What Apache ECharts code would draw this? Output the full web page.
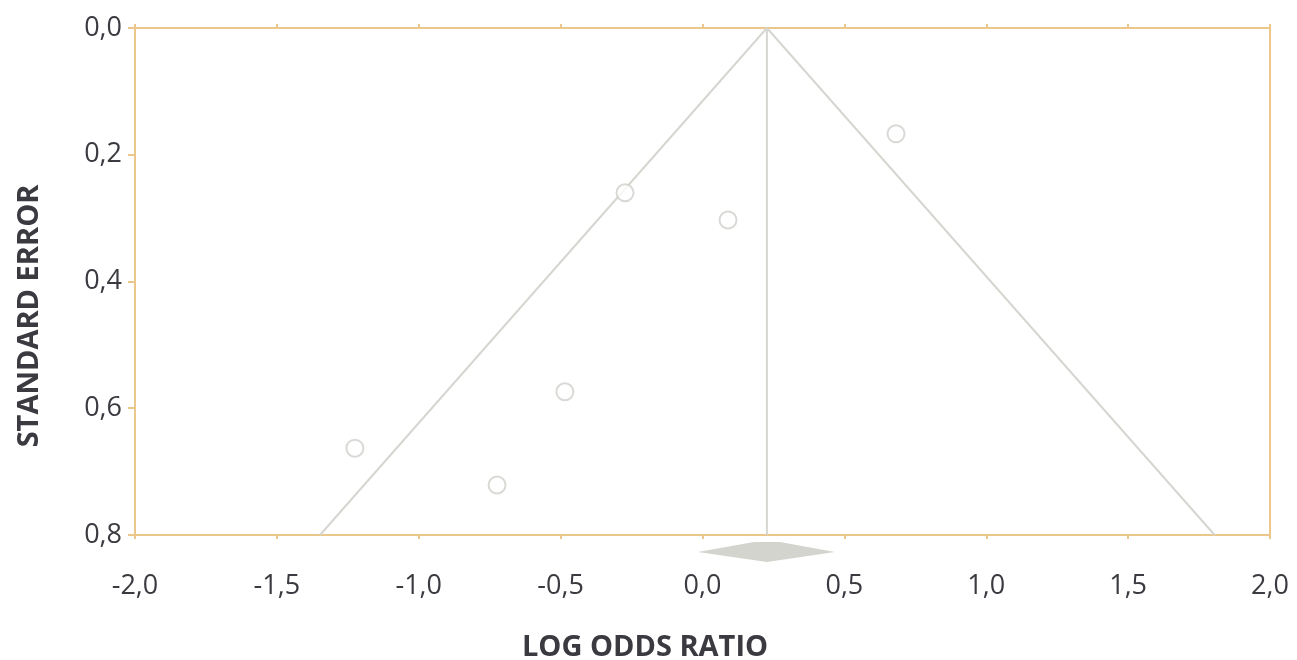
<!DOCTYPE html>
<html>
<head>
<meta charset="utf-8">
<script src="https://cdn.jsdelivr.net/npm/echarts@6/dist/echarts.min.js"></script>
<style>
html,body{margin:0;padding:0;background:#fff;}
#chart{width:1297px;height:660px;}
</style>
</head>
<body>
<div id="chart"></div>
<script>
// Study points: [log odds ratio, standard error]
var studyLogOR = [0.682, -0.273, 0.090, -0.485, -1.225, -0.724];
var studySE    = [0.167, 0.260, 0.303, 0.574, 0.663, 0.721];
// Funnel lines
var funnelLeft   = [[0.227, 0], [-1.348, 0.8]];
var funnelRight  = [[0.227, 0], [1.805, 0.8]];
var funnelCenter = [[0.227, 0], [0.227, 0.8]];
// Pooled estimate diamond: [lower, estimate, upper]
var pooled = [[-0.016, 0.227, 0.467]];
// Axis settings
var xTicks = { min: -2, max: 2, interval: 0.5 };
var yTicks = { min: 0, max: 0.8, interval: 0.2 };
var xTitle = 'LOG ODDS RATIO';
var yTitle = 'STANDARD ERROR';

var points = studyLogOR.map(function (v, i) { return [v, studySE[i]]; });

var axisColor = '#ecc78b';
var lineGray = '#d6d6d1';
var textColor = '#3a3a40';
var font = '"Open Sans", "Noto Sans", sans-serif';
function fmt(v) { return v.toFixed(1).replace('.', ','); }

var chart = echarts.init(document.getElementById('chart'), null, { renderer: 'canvas' });
chart.setOption({
  animation: false,
  grid: { left: 135, right: 27, top: 28, bottom: 125, show: true, borderColor: axisColor, borderWidth: 2, backgroundColor: 'transparent' },
  xAxis: [{
    type: 'value', min: xTicks.min, max: xTicks.max, interval: xTicks.interval,
    axisLine: { show: true, onZero: false, lineStyle: { color: axisColor, width: 2 } },
    axisTick: { show: true, inside: false, length: 4, lineStyle: { color: axisColor, width: 2 } },
    splitLine: { show: false },
    axisLabel: { color: textColor, fontFamily: font, fontSize: 27, margin: 38, formatter: fmt }
  }, {
    type: 'value', min: xTicks.min, max: xTicks.max, interval: xTicks.interval, position: 'bottom',
    axisLine: { show: false },
    axisTick: { show: true, inside: true, length: 4, lineStyle: { color: axisColor, width: 2 } },
    splitLine: { show: false },
    axisLabel: { show: false }
  }],
  yAxis: {
    type: 'value', inverse: true, min: yTicks.min, max: yTicks.max, interval: yTicks.interval,
    axisLine: { show: true, onZero: false, lineStyle: { color: axisColor, width: 2 } },
    axisTick: { show: true, length: 7, lineStyle: { color: axisColor, width: 2 } },
    splitLine: { show: false },
    axisLabel: { color: textColor, fontFamily: font, fontSize: 27, margin: 13, formatter: fmt }
  },
  graphic: [
    { type: 'text', x: 645, y: 648, style: { text: xTitle, fill: textColor, font: 'bold 29px ' + font, textAlign: 'center', textVerticalAlign: 'middle' } },
    { type: 'text', x: 30, y: 316, rotation: Math.PI / 2, style: { text: yTitle, fill: textColor, font: 'bold 29px ' + font, textAlign: 'center', textVerticalAlign: 'middle' } }
  ],
  series: [
    { type: 'line', data: funnelLeft, showSymbol: false, silent: true, lineStyle: { color: lineGray, width: 2 }, z: 2 },
    { type: 'line', data: funnelRight, showSymbol: false, silent: true, lineStyle: { color: lineGray, width: 2 }, z: 2 },
    { type: 'line', data: funnelCenter, showSymbol: false, silent: true, lineStyle: { color: lineGray, width: 2 }, z: 2 },
    { type: 'scatter', data: points, symbol: 'emptyCircle', symbolSize: 17,
      itemStyle: { color: '#d0d0cb', borderColor: '#d0d0cb', borderWidth: 2.5 }, z: 3 },
    { type: 'custom', data: pooled, clip: false, silent: true, z: 3,
      renderItem: function (params, api) {
        var lo = api.coord([api.value(0), yTicks.max]);
        var c = api.coord([api.value(1), yTicks.max]);
        var hi = api.coord([api.value(2), yTicks.max]);
        var y0 = c[1];
        return {
          type: 'polygon',
          shape: { points: [
            [lo[0], y0 + 17], [c[0] - 13, y0 + 7], [c[0] + 13, y0 + 7], [hi[0], y0 + 17], [c[0], y0 + 27]
          ] },
          style: { fill: '#d3d4ce' }
        };
      }
    }
  ]
});
</script>
</body>
</html>
